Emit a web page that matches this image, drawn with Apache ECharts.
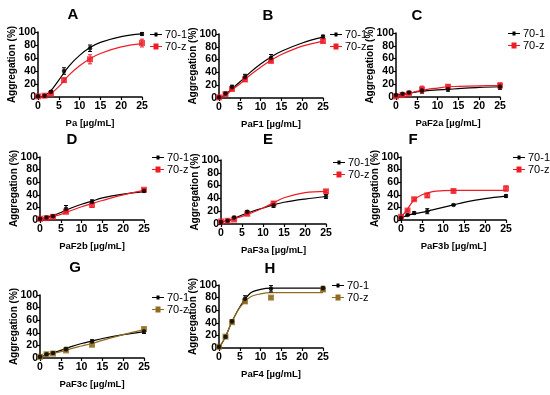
<!DOCTYPE html>
<html><head><meta charset="utf-8">
<script src="https://cdn.jsdelivr.net/npm/echarts@6/dist/echarts.min.js"></script>
<style>html,body{margin:0;padding:0;background:#fff}#c{width:550px;height:395px}</style>
</head><body><div id="c"></div>
<script>
// concentrations of measured points
var doses = [0, 1.5625, 3.125, 6.25, 12.5, 25];
// x positions at which the fitted curves were read
var curveX = [0, 1.5, 3, 5, 7.5, 10, 12.5, 15, 20, 25];
var panelLetters = ['A','B','C','D','E','F','G','H'];
var xNames = ['Pa [µg/mL]','PaF1 [µg/mL]','PaF2a [µg/mL]','PaF2b [µg/mL]','PaF3a [µg/mL]','PaF3b [µg/mL]','PaF3c [µg/mL]','PaF4 [µg/mL]'];
var yTicks = [0,20,40,60,80,100];
var xTicks = [0,5,10,15,20,25];

// measured means (70-1 and 70-z)
var ptsA1 = [1, 2, 8, 40, 75, 97],  ptsAz = [1, 2, 5, 26, 58, 83];
var ptsB1 = [1, 7, 17, 33, 63, 96], ptsBz = [1, 6, 14, 29, 58, 89];
var ptsC1 = [3, 5, 7, 10, 12, 16],  ptsCz = [1, 3, 5, 12, 16, 18];
var ptsD1 = [2, 4, 6, 18, 29, 46],  ptsDz = [2, 3, 5, 13, 24, 48];
var ptsE1 = [3, 5, 10, 19, 29, 43], ptsEz = [4, 5, 7, 16, 32, 51];
var ptsF1 = [3, 8, 11, 14, 24, 38], ptsFz = [5, 15, 33, 39, 46, 50];
var ptsG1 = [2, 6, 8, 14, 26, 42],  ptsGz = [2, 6, 7, 12, 21, 46];
var ptsH1 = [2, 18, 42, 78, 94, 95], ptsHz = [2, 18, 41, 74, 80, 93];

// error bar half-lengths
var errA1 = [1,1,2,5,5,2], errAz = [1,1,2,3,7,6];
var errB1 = [1,2,3,4,5,2], errBz = [1,1,2,3,3,3];
var errC1 = [1,1,2,4,3,4], errCz = [1,1,1,5,3,4];
var errD1 = [1,1,2,5,3,2], errDz = [1,1,1,2,4,2];
var errE1 = [1,1,2,2,3,3], errEz = [1,1,2,2,3,2];
var errF1 = [1,1,2,4,1,2], errFz = [1,1,2,3,2,4];
var errG1 = [1,1,1,3,3,3], errGz = [1,1,1,2,2,2];
var errH1 = [1,2,3,5,5,3], errHz = [1,2,2,3,2,3];

// fitted curves read at curveX
var fitA1 = [0, 2, 9, 26, 48, 64, 76, 84, 93, 97],   fitAz = [0, 1, 5, 16, 34, 48, 59, 67, 77, 82];
var fitB1 = [0, 5, 14, 25, 40, 53, 64, 73, 86, 95],  fitBz = [0, 4, 12, 22, 36, 48, 59, 68, 81, 89];
var fitC1 = [3, 4, 6, 8, 10, 11, 12, 13, 15, 16],    fitCz = [1, 3, 5, 9, 12, 14, 16, 16.5, 17.5, 18];
var fitD1 = [2, 4, 7, 12, 19, 25, 30, 35, 41, 45],   fitDz = [1, 2, 5, 9, 15, 21, 26, 31, 40, 47];
var fitE1 = [3, 5, 8, 14, 20, 25, 30, 34, 39, 43],   fitEz = [3, 5, 8, 12, 18, 25, 33, 41, 49, 51];
var fitF1 = [4, 7, 10, 12, 16, 20, 24, 28, 34, 38],  fitFz = [4, 17, 31, 40, 45, 46.5, 47, 47, 47, 47];
var fitG1 = [2, 5, 8, 12, 18, 23, 27, 31, 37, 42],   fitGz = [2, 4, 7, 10, 15, 19, 23, 28, 37, 45];
var fitH1 = [0, 17, 40, 65, 87, 93, 95, 95, 95, 95], fitHz = [0, 17, 40, 64, 81, 86, 88, 88, 88, 88];

var pts1 = [ptsA1,ptsB1,ptsC1,ptsD1,ptsE1,ptsF1,ptsG1,ptsH1];
var ptsz = [ptsAz,ptsBz,ptsCz,ptsDz,ptsEz,ptsFz,ptsGz,ptsHz];
var err1 = [errA1,errB1,errC1,errD1,errE1,errF1,errG1,errH1];
var errz = [errAz,errBz,errCz,errDz,errEz,errFz,errGz,errHz];
var fit1 = [fitA1,fitB1,fitC1,fitD1,fitE1,fitF1,fitG1,fitH1];
var fitz = [fitAz,fitBz,fitCz,fitDz,fitEz,fitFz,fitGz,fitHz];

// layout (pixels)
var grids = [
  {l:38, r:142, t:32, b:97}, {l:219, r:323, t:34, b:98}, {l:396, r:500, t:33, b:97},
  {l:40, r:144, t:157, b:220}, {l:221, r:326, t:160, b:224}, {l:401, r:506, t:157, b:220},
  {l:40, r:144, t:295, b:358}, {l:219, r:323, t:285, b:348}
];
var titlePos = [[73,15],[268,16],[417,16],[72,140],[268,140],[413,140],[75,268],[270,269]];
var legendPos = [[150,29],[330,29],[508,28],[152,152],[333,157],[513,152],[152,292],[332,280]];
var zColors = ['#ee1c25','#ee1c25','#ee1c25','#ee1c25','#ee1c25','#ee1c25','#8f6c1f','#8f6c1f'];

var FONT = 'Liberation Sans, Arial, sans-serif';
var iconLineDot = 'path://M0,4.5H4.5V3H7.5V4.5H12V5.5H7.5V7H4.5V5.5H0Z';
var iconLineSq = 'path://M0,4.5H3.5V2H8.5V4.5H12V5.5H8.5V8H3.5V5.5H0Z';

function pairs(xs, ys){ return xs.map(function(x,i){ return [x, ys[i]]; }); }
function errData(ys, es){ return doses.map(function(x,i){ return [x, ys[i]-es[i], ys[i]+es[i]]; }); }
function errRender(color){
  return function(params, api){
    var x = api.value(0), lo = api.value(1), hi = api.value(2);
    var p1 = api.coord([x, lo]), p2 = api.coord([x, hi]);
    var w = 2;
    var st = {stroke: color, lineWidth: 1};
    return {type:'group', children:[
      {type:'line', shape:{x1:p1[0],y1:p1[1],x2:p2[0],y2:p2[1]}, style:st},
      {type:'line', shape:{x1:p1[0]-w,y1:p1[1],x2:p1[0]+w,y2:p1[1]}, style:st},
      {type:'line', shape:{x1:p2[0]-w,y1:p2[1],x2:p2[0]+w,y2:p2[1]}, style:st}
    ]};
  };
}

var option = {animation:false, backgroundColor:'#fff', grid:[], xAxis:[], yAxis:[], series:[], legend:[], graphic:[]};
grids.forEach(function(g, i){
  option.grid.push({left:g.l, top:g.t, width:g.r-g.l, height:g.b-g.t, containLabel:false});
  option.xAxis.push({gridIndex:i, type:'value', min:xTicks[0], max:xTicks[xTicks.length-1], interval:5,
    name:xNames[i], nameLocation:'middle', nameGap:21, nameMoveOverlap:false,
    nameTextStyle:{fontFamily:FONT, fontWeight:'bold', fontSize:9.5, color:'#000'},
    axisLine:{lineStyle:{color:'#000', width:1.5}}, axisTick:{length:3, lineStyle:{color:'#000', width:1.2}},
    axisLabel:{fontFamily:FONT, fontWeight:'bold', fontSize:10.5, color:'#000', margin:4},
    splitLine:{show:false}});
  option.yAxis.push({gridIndex:i, type:'value', min:yTicks[0], max:yTicks[yTicks.length-1], interval:20,
    name:'Aggregation (%)', nameLocation:'middle', nameGap:21, nameMoveOverlap:false,
    nameTextStyle:{fontFamily:FONT, fontWeight:'bold', fontSize:10, color:'#000'},
    axisLine:{show:true, lineStyle:{color:'#000', width:1.5}}, axisTick:{show:true, length:3, lineStyle:{color:'#000', width:1.2}},
    axisLabel:{fontFamily:FONT, fontWeight:'bold', fontSize:10.5, color:'#000', margin:2},
    splitLine:{show:false}});
  var zc = zColors[i];
  option.series.push(
    {name:'70-1', type:'line', xAxisIndex:i, yAxisIndex:i, data:pairs(curveX, fit1[i]), smooth:0.35, symbol:'none', lineStyle:{color:'#000', width:1.2}, z:2},
    {name:'70-z', type:'line', xAxisIndex:i, yAxisIndex:i, data:pairs(curveX, fitz[i]), smooth:0.35, symbol:'none', lineStyle:{color:zc, width:1.2}, z:2},
    {type:'custom', xAxisIndex:i, yAxisIndex:i, data:errData(pts1[i], err1[i]), renderItem:errRender('#000'), z:3},
    {type:'custom', xAxisIndex:i, yAxisIndex:i, data:errData(ptsz[i], errz[i]), renderItem:errRender(zc), z:3},
    {name:'70-1', type:'scatter', xAxisIndex:i, yAxisIndex:i, data:pairs(doses, pts1[i]), symbol:'circle', symbolSize:4.5, itemStyle:{color:'#000'}, z:5},
    {name:'70-z', type:'scatter', xAxisIndex:i, yAxisIndex:i, data:pairs(doses, ptsz[i]), symbol:'rect', symbolSize:6, itemStyle:{color:zc}, z:4}
  );
  option.legend.push({orient:'vertical', left:legendPos[i][0], top:legendPos[i][1], padding:0, itemGap:1,
    itemWidth:12, itemHeight:8, selectedMode:false,
    textStyle:{fontFamily:FONT, fontSize:11, color:'#000', padding:[0,0,0,-2]},
    data:[{name:'70-1', icon:iconLineDot, itemStyle:{color:'#000'}},
          {name:'70-z', icon:iconLineSq, itemStyle:{color:zc}}]});
  option.graphic.push({type:'text', x:titlePos[i][0], y:titlePos[i][1],
    style:{text:panelLetters[i], fontFamily:FONT, fontWeight:'bold', fontSize:15, fill:'#000', textAlign:'center', textVerticalAlign:'middle'}});
});
var chart = echarts.init(document.getElementById('c'), null, {renderer:'canvas'});
chart.setOption(option);
</script></body></html>
